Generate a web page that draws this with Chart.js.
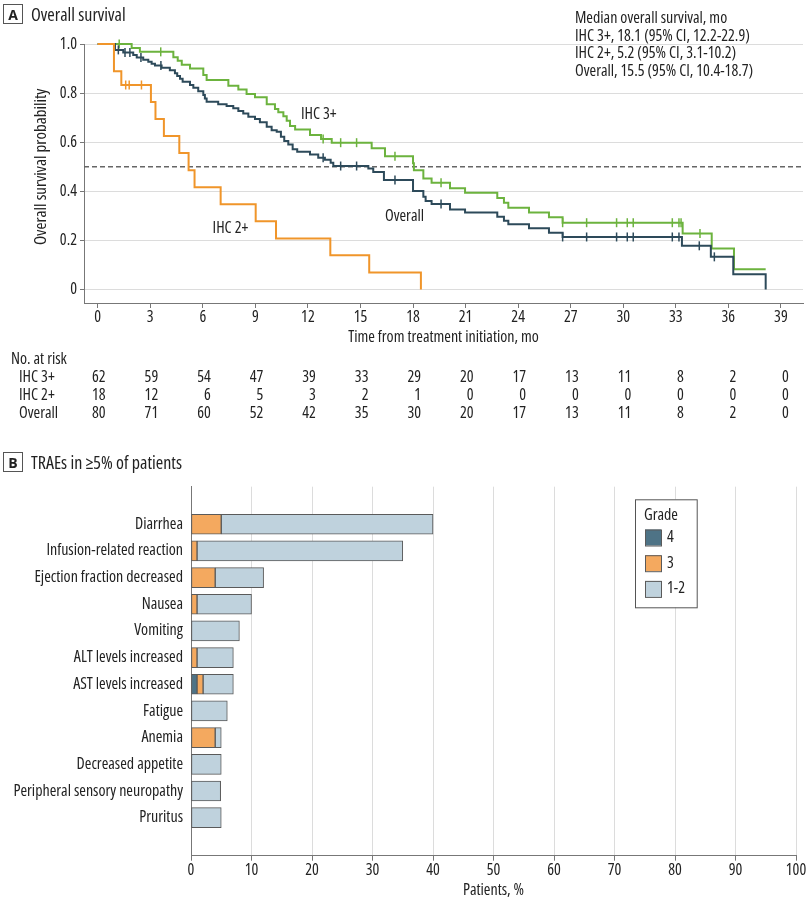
<!DOCTYPE html>
<html><head><meta charset="utf-8">
<script src="https://cdn.jsdelivr.net/npm/chart.js@4.4.1/dist/chart.umd.min.js"></script>
<style>
html,body{margin:0;padding:0;background:#fff}
body{width:810px;height:901px;position:relative;overflow:hidden;font-family:'Open Sans',sans-serif;font-stretch:condensed;color:#222}
#cA{position:absolute;left:0;top:0}
#cB{position:absolute;left:0;top:445px}
.hdr{position:absolute;left:3px;height:20px;display:flex;align-items:center;font-size:18px;white-space:nowrap;font-stretch:condensed}
.hdr .box{box-sizing:border-box;width:20px;height:20px;border:1px solid #555;display:flex;align-items:center;justify-content:center;font-weight:bold;font-size:14px;margin-right:8px;font-stretch:normal}
</style></head>
<body>
<canvas id="cA" width="810" height="425"></canvas>
<canvas id="cB" width="810" height="456"></canvas>
<div class="hdr" style="top:4px"><span class="box">A</span><span>Overall survival</span></div>
<div class="hdr" style="top:452px"><span class="box">B</span><span>TRAEs in ≥5% of patients</span></div>
<script>
const FAMILY = "'Open Sans', sans-serif";
const CFONT = (size) => 'condensed ' + size + 'px ' + FAMILY;
const chartFont = (size) => ({family: FAMILY, size: size, weight: 'condensed'});

// ---------- Panel A data ----------
const monthTicks = [0,3,6,9,12,15,18,21,24,27,30,33,36,39];

const ihc3Time = [0,1.94,2.41,4.32,4.57,4.8,5.27,6.03,6.22,7.46,8.03,8.5,8.98,9.65,10.12,10.31,10.6,10.79,10.98,11.27,12.12,12.75,13.36,15.64,16.4,18.0,18.05,18.59,19.06,20.11,20.97,22.81,23.19,23.44,24.62,25.76,26.54,33.39,35.05,36.32,38.13];
const ihc3Surv = [1.0,0.984,0.968,0.946,0.932,0.915,0.9,0.874,0.853,0.83,0.815,0.796,0.783,0.755,0.735,0.722,0.706,0.687,0.666,0.652,0.629,0.613,0.598,0.575,0.543,0.514,0.486,0.452,0.435,0.412,0.394,0.373,0.353,0.333,0.314,0.294,0.272,0.228,0.167,0.082,0.082];
const ihc3Censor = [1.23,3.6,12.87,13.87,14.78,16.97,19.6,26.54,27.91,29.62,30.23,30.57,32.8,33.18,33.3,34.38];

const ihc2Time = [0,0.93,1.35,3.04,3.3,3.78,4.66,5.19,5.53,7.02,9.02,10.18,13.28,15.5,18.45];
const ihc2Surv = [1.0,0.889,0.833,0.764,0.694,0.625,0.556,0.486,0.417,0.347,0.278,0.208,0.139,0.069,0];
const ihc2Censor = [1.6,1.8,2.5];

const overallTime = [0,0.99,1.46,2.03,2.23,2.6,2.89,3.08,3.27,3.65,4.12,4.41,4.54,4.7,4.85,5.27,5.46,5.74,6.03,6.12,6.22,6.88,7.36,7.74,8.03,8.31,8.6,8.98,9.26,9.65,9.93,10.22,10.46,10.65,10.88,11.13,11.39,12.12,12.59,12.97,13.3,13.45,15.45,15.73,16.34,18.0,18.59,18.72,19.06,20.11,20.97,22.81,23.19,23.44,24.62,25.76,26.54,33.35,35.0,36.28,38.13];
const overallSurv = [1.0,0.976,0.965,0.955,0.945,0.936,0.928,0.92,0.912,0.903,0.893,0.881,0.87,0.858,0.846,0.833,0.822,0.808,0.792,0.778,0.765,0.755,0.747,0.738,0.727,0.717,0.704,0.694,0.681,0.663,0.649,0.643,0.622,0.605,0.591,0.571,0.561,0.55,0.537,0.529,0.516,0.503,0.493,0.479,0.446,0.401,0.378,0.36,0.348,0.326,0.314,0.296,0.28,0.266,0.249,0.231,0.214,0.178,0.133,0.062,0];
const overallCensor = [1.18,1.56,1.84,2.47,3.61,12.87,13.87,14.78,16.97,19.6,26.54,27.91,29.62,30.23,30.57,32.8,33.18,34.34,35.2];

const riskIHC3 = [62,59,54,47,39,33,29,20,17,13,11,8,2,0];
const riskIHC2 = [18,12,6,5,3,2,1,0,0,0,0,0,0,0];
const riskOverall = [80,71,60,52,42,35,30,20,17,13,11,8,2,0];
const riskLabels = ['IHC 3+','IHC 2+','Overall'];

const medianText = ['Median overall survival, mo','IHC 3+, 18.1 (95% CI, 12.2-22.9)','IHC 2+, 5.2 (95% CI, 3.1-10.2)','Overall, 15.5 (95% CI, 10.4-18.7)'];
const medianRef = 0.5;

// ---------- Panel B data ----------
const aeCategories = ['Diarrhea','Infusion-related reaction','Ejection fraction decreased','Nausea','Vomiting','ALT levels increased','AST levels increased','Fatigue','Anemia','Decreased appetite','Peripheral sensory neuropathy','Pruritus'];
const grade4 = [0,0,0,0,0,0,1,0,0,0,0,0];
const grade3 = [5,1,4,1,0,1,1,0,4,0,0,0];
const grade12 = [35,34,8,9,8,6,5,6,1,5,4.9,5];
const gradeLabels = ['4','3','1-2'];

// ---------- helpers ----------
const C_G = '#6cb33e', C_D = '#2d4a5a', C_O = '#f0952a';
function survAt(times, surv, t){ let s = surv[0]; for (let i=0;i<times.length;i++){ if (times[i] <= t) s = surv[i]; } return s; }
function curve(times, surv){ return times.map((t,i)=>({x:t,y:surv[i]})); }
function censor(times, surv, cs){ return cs.map(t=>({x:t,y:survAt(times,surv,t)})); }

const curveDs = (label, t, s, color, order) => ({label, data: curve(t,s), borderColor: color, borderWidth: 2, stepped: true, pointRadius: 0, fill:false, clip:false, order});
const censorDs = (label, t, s, c, color, order) => ({label, data: censor(t,s,c), showLine:false, borderColor: color, backgroundColor: color, pointStyle:'line', rotation:90, pointRadius:4.5, pointBorderWidth:1.5, clip:false, order});

const panelAExtras = {
  id:'panelAExtras',
  beforeDatasetsDraw(chart){
    const {ctx, chartArea, scales:{y}} = chart;
    const py = y.getPixelForValue(medianRef);
    ctx.save();
    ctx.strokeStyle = '#666'; ctx.lineWidth = 1.4; ctx.setLineDash([5,3]);
    ctx.beginPath(); ctx.moveTo(chartArea.left, py); ctx.lineTo(chartArea.right, py); ctx.stroke();
    ctx.restore();
  },
  afterDraw(chart){
    const {ctx, scales:{x,y}} = chart;
    ctx.save();
    ctx.fillStyle = '#222';
    ctx.textBaseline = 'middle';
    // y title
    ctx.save();
    ctx.font = CFONT(17);
    ctx.translate(41.5, y.getPixelForValue(0.5));
    ctx.rotate(-Math.PI/2);
    ctx.textAlign = 'center';
    ctx.fillText('Overall survival probability', 0, 0);
    ctx.restore();
    ctx.font = CFONT(16);
    // curve labels
    ctx.textAlign = 'left';
    ctx.fillText('IHC 3+', x.getPixelForValue(11.6), y.getPixelForValue(0.715));
    ctx.fillText('IHC 2+', x.getPixelForValue(6.56), y.getPixelForValue(0.249));
    ctx.fillText('Overall', x.getPixelForValue(16.4), y.getPixelForValue(0.296));
    // median annotation
    medianText.forEach((t,i)=> ctx.fillText(t, 575, 18.5 + i*17.6));
    // risk table
    ctx.fillText('No. at risk', 11, 359.3);
    const rows = [riskIHC3, riskIHC2, riskOverall];
    rows.forEach((r,ri)=>{
      const yy = 377.3 + ri*18;
      ctx.textAlign = 'left';
      ctx.fillText(riskLabels[ri], 19, yy);
      ctx.textAlign = 'right';
      r.forEach((v,i)=> ctx.fillText(String(v), x.getPixelForValue(monthTicks[i]) + 8, yy));
    });
    ctx.restore();
  }
};

new Chart(document.getElementById('cA'), {
  type:'line',
  data:{ datasets:[
    curveDs('IHC 3+', ihc3Time, ihc3Surv, C_G, 3),
    curveDs('Overall', overallTime, overallSurv, C_D, 2),
    curveDs('IHC 2+', ihc2Time, ihc2Surv, C_O, 1),
    censorDs('IHC 3+ censored', ihc3Time, ihc3Surv, ihc3Censor, C_G, 3),
    censorDs('Overall censored', overallTime, overallSurv, overallCensor, C_D, 2),
    censorDs('IHC 2+ censored', ihc2Time, ihc2Surv, ihc2Censor, C_O, 1)
  ]},
  options:{
    responsive:false, animation:false, devicePixelRatio:1,
    layout:{padding:{left:0,right:7,top:44,bottom:0}},
    plugins:{legend:{display:false}, tooltip:{enabled:false}},
    scales:{
      x:{ type:'linear', min:-0.78, max:40.26,
        afterFit(s){ s.height = 425 - 303; },
        grid:{display:true, drawOnChartArea:false, drawTicks:true, tickLength:5, tickColor:'#777'},
        border:{display:true, color:'#777', width:1},
        ticks:{stepSize:3, includeBounds:false, autoSkip:false, maxRotation:0, padding:0, color:'#222', font:chartFont(16)},
        title:{display:true, text:'Time from treatment initiation, mo', color:'#222', font:chartFont(16), padding:{top:0,bottom:78}}
      },
      y:{ type:'linear', min:-0.055, max:1.0,
        afterFit(s){ s.width = 84; },
        grid:{display:true, color:'#dcdcdc', lineWidth:1, drawTicks:true, tickLength:4, tickColor:'#777'},
        border:{display:true, color:'#777', width:1},
        ticks:{stepSize:0.2, includeBounds:false, padding:3, color:'#222', font:chartFont(16),
          callback:(v)=> Math.abs(v) < 1e-9 ? '0' : Number(v).toFixed(1)}
      }
    }
  },
  plugins:[panelAExtras]
});

// ---------- Panel B ----------
const nz = v => v === 0 ? null : v;
const barDs = (label, vals, color) => ({label, data: aeCategories.map((c,i)=>({x: nz(vals[i]), y: i})), backgroundColor: color, borderColor:'#5a5a5a', borderWidth:1, borderSkipped:false, barThickness:20});
const gradeColors = ['#4e7386','#f4a95f','#bfd2dd'];

const legendB = {
  id:'legendB',
  afterDraw(chart){
    const {ctx} = chart;
    const bx = 635, by = 499.3 - 445, bw = 61.7, bh = 108;
    ctx.save();
    ctx.fillStyle = '#fff'; ctx.fillRect(bx, by, bw, bh);
    ctx.strokeStyle = '#555'; ctx.lineWidth = 1;
    ctx.strokeRect(bx+0.5, by+0.5, bw, bh);
    ctx.fillStyle = '#222'; ctx.font = CFONT(16); ctx.textBaseline = 'middle'; ctx.textAlign='left';
    ctx.fillText('Grade', 644, 515 - 445);
    chart.data.datasets.forEach((ds,i)=>{
      const cy = 537.5 - 445 + i*25.7;
      ctx.fillStyle = ds.backgroundColor; ctx.fillRect(645, cy-8, 16, 16);
      ctx.strokeStyle = '#5a5a5a'; ctx.strokeRect(645.5, cy-7.5, 16, 16);
      ctx.fillStyle = '#222'; ctx.fillText(ds.label, 667, cy);
    });
    ctx.restore();
  }
};

new Chart(document.getElementById('cB'), {
  type:'bar',
  data:{ datasets:[
    barDs(gradeLabels[0], grade4, gradeColors[0]),
    barDs(gradeLabels[1], grade3, gradeColors[1]),
    barDs(gradeLabels[2], grade12, gradeColors[2])
  ]},
  options:{
    indexAxis:'y', responsive:false, animation:false, devicePixelRatio:1,
    layout:{padding:{left:0,right:14,top:41.7,bottom:0}},
    plugins:{legend:{display:false}, tooltip:{enabled:false}},
    scales:{
      x:{ type:'linear', stacked:true, min:0, max:100,
        afterFit(s){ s.height = 456 - 410.7; },
        grid:{display:true, color:'#dcdcdc', drawOnChartArea:true, drawTicks:true, tickLength:5, tickColor:'#777'},
        border:{display:true, color:'#777', width:1},
        ticks:{stepSize:10, autoSkip:false, maxRotation:0, padding:0, color:'#222', font:chartFont(16)},
        title:{display:true, text:'Patients, %', color:'#222', font:chartFont(16), padding:{top:0,bottom:0.7}}
      },
      y:{ type:'linear', stacked:true, reverse:true, min:-0.83, max:11.85,
        afterFit(s){ s.width = 191; },
        grid:{display:true, drawOnChartArea:false, drawTicks:false},
        border:{display:true, color:'#777', width:1},
        ticks:{stepSize:1, includeBounds:false, autoSkip:false, padding:8, color:'#222', font:chartFont(16),
          callback:(v)=> (Number.isInteger(v) && aeCategories[v] !== undefined) ? aeCategories[v] : ''}
      }
    }
  },
  plugins:[legendB]
});
</script>
</body></html>
